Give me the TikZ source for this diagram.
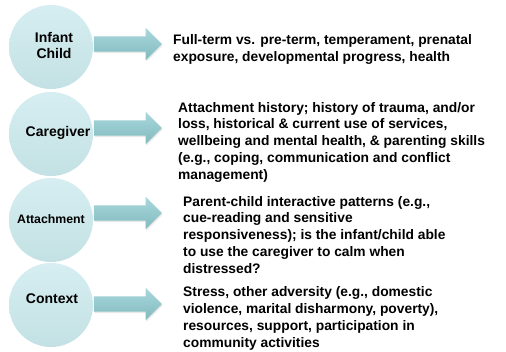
\documentclass[tikz,border=0pt]{standalone}
\usepackage{fontspec}
\setmainfont{Liberation Sans}
\usepackage{xcolor}
\usepackage{tikz}
\usetikzlibrary{shapes.arrows, shadows, positioning}

\definecolor{bubbletop}{RGB}{214,238,241}
\definecolor{bubblebot}{RGB}{195,225,228}
\definecolor{arrowtop}{RGB}{170,216,220}
\definecolor{arrowbot}{RGB}{128,186,191}

\begin{document}
\begin{tikzpicture}[
        x=1pt, y=-1pt,
        bubble/.style={circle, minimum size=84pt, inner sep=0pt, top color=bubbletop, bottom color=bubblebot, draw=none},
        bubbletext/.style={align=center, inner sep=0pt, font=\fontsize{14}{16}\selectfont\bfseries},
        blockarrow/.style={single arrow, single arrow head extend=8.5pt, inner xsep=0pt, inner ysep=7.5pt, minimum height=68pt, top color=arrowtop, bottom color=arrowbot, draw=none, drop shadow={opacity=0.18, shadow xshift=0.8pt, shadow yshift=-1.5pt}},
        infotext/.style={anchor=base west, align=left, inner sep=0pt, font=\fontsize{13.8}{16.7}\selectfont\bfseries}
    ]
        \useasboundingbox (0,0) rectangle (506,351);

        % Arrows (drawn first so the circles sit on top of their tails)
        \node[blockarrow] (a1) at (124, 44) {};
        \node[blockarrow] (a2) at (124,128) {};
        \node[blockarrow] (a3) at (124,213) {};
        \node[blockarrow] (a4) at (124,304) {};

        % Left Column
        \node[bubble] (c1) at (51, 47) {};
        \node[bubble] (c2) at (51,134) {};
        \node[bubble] (c3) at (51,220) {};
        \node[bubble] (c4) at (51,305) {};

        \node[bubbletext] (l1) at (54, 45) {Infant\\Child};
        \node[bubbletext] (l2) at (58,133) {Caregiver};
        \node[bubbletext, font=\fontsize{12.3}{14}\selectfont\bfseries] (l3) at (51,219) {Attachment};
        \node[bubbletext] (l4) at (52,299) {Context};

        % Right Column (anchored on the baseline of each last line)
        \node[infotext] (t1) at (173, 61) {Full-term vs. pre-term, temperament, prenatal\\exposure, developmental progress, health};
        \node[infotext] (t2) at (178,179) {Attachment history; history of trauma, and/or\\loss, historical \& current use of services,\\wellbeing and mental health, \& parenting skills\\(e.g., coping, communication and conflict\\management)};
        \node[infotext] (t3) at (183,273) {Parent-child interactive patterns (e.g.,\\cue-reading and sensitive\\responsiveness); is the infant/child able\\to use the caregiver to calm when\\distressed?};
        \node[infotext] (t4) at (183,347) {Stress, other adversity (e.g., domestic\\violence, marital disharmony, poverty),\\resources, support, participation in\\community activities};
    \end{tikzpicture}
\end{document}
